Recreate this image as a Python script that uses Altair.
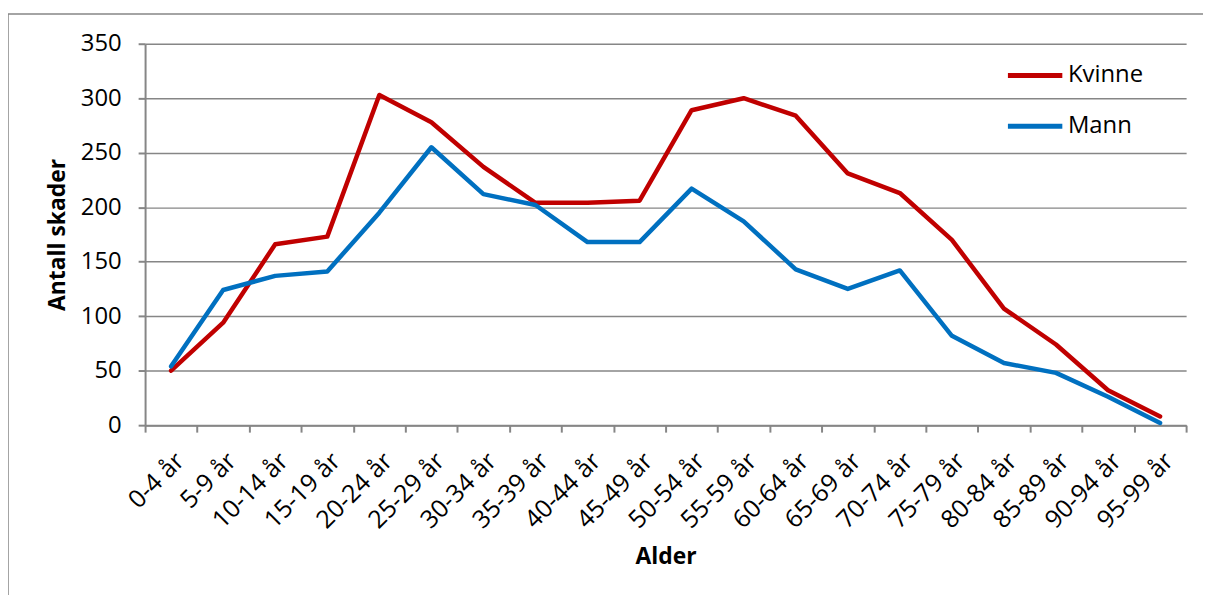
import altair as alt
import pandas as pd

ages = ["0-4 år", "5-9 år", "10-14 år", "15-19 år", "20-24 år", "25-29 år", "30-34 år",
        "35-39 år", "40-44 år", "45-49 år", "50-54 år", "55-59 år", "60-64 år", "65-69 år",
        "70-74 år", "75-79 år", "80-84 år", "85-89 år", "90-94 år", "95-99 år"]
kvinne = [50, 94, 166, 173, 303, 278, 237, 204, 204, 206, 289, 300, 284, 231, 213, 170, 107, 74, 32, 8]
mann = [54, 124, 137, 141, 195, 255, 212, 202, 168, 168, 217, 187, 143, 125, 142, 82, 57, 48, 26, 2]
series = ["Kvinne", "Mann"]
colors = ["#C00000", "#0070C0"]

rows = []
for name, vals in zip(series, [kvinne, mann]):
    for a, v in zip(ages, vals):
        rows.append({"Alder": a, "Antall": v, "Kjønn": name})
df = pd.DataFrame(rows)

FONT = "Open Sans"
GRID = "#868686"

lines = alt.Chart(df).mark_line(strokeWidth=4.5, strokeJoin="round", strokeCap="round").encode(
    x=alt.X("Alder:N", sort=ages,
            scale=alt.Scale(type="band", paddingInner=0, paddingOuter=0),
            axis=alt.Axis(title="Alder", tickBand="extent", labelAngle=-45,
                          labelAlign="right", labelBaseline="top",
                          labelFont=FONT, labelFontSize=25, labelColor="#000",
                          labelPadding=16, tickSize=7, tickColor=GRID, domainColor=GRID,
                          tickWidth=2, domainWidth=2, grid=False,
                          titleFont=FONT, titleFontSize=23, titleFontWeight="bold",
                          titleColor="#000", titleY=121, titleBaseline="top")),
    y=alt.Y("Antall:Q", scale=alt.Scale(domain=[0, 350], nice=False),
            axis=alt.Axis(title="Antall skader", values=list(range(0, 351, 50)),
                          labelFont=FONT, labelFontSize=24, labelColor="#000",
                          labelPadding=17, tickSize=7, tickColor=GRID, domainColor=GRID,
                          tickWidth=2, domainWidth=2, gridColor=GRID, gridWidth=1.5,
                          titleFont=FONT, titleFontSize=23, titleFontWeight="bold",
                          titleColor="#000", titleX=-76, titlePadding=0)),
    color=alt.Color("Kjønn:N", sort=series,
                    scale=alt.Scale(domain=series, range=colors),
                    legend=alt.Legend(title=None, orient="none", legendX=866, legendY=2,
                                      symbolType="stroke", symbolSize=3000,
                                      symbolStrokeWidth=5, rowPadding=9,
                                      labelFont=FONT, labelFontSize=24, labelColor="#000",
                                      labelOffset=3)),
)

frame = alt.Chart(pd.DataFrame({"f": [0]})).mark_rect(
    fill=None, stroke=GRID, strokeWidth=1.5).encode(
    x=alt.value(-138), x2=alt.value(1300), y=alt.value(-30), y2=alt.value(800))

chart = alt.layer(frame, lines).properties(
    width=1048, height=384,
    autosize=alt.AutoSizeParams(type="none"),
    padding={"left": 138, "top": 34, "right": 17, "bottom": 169},
).configure_view(stroke=None)

chart.save("out.html", embed_options={"renderer": "svg", "actions": False})
